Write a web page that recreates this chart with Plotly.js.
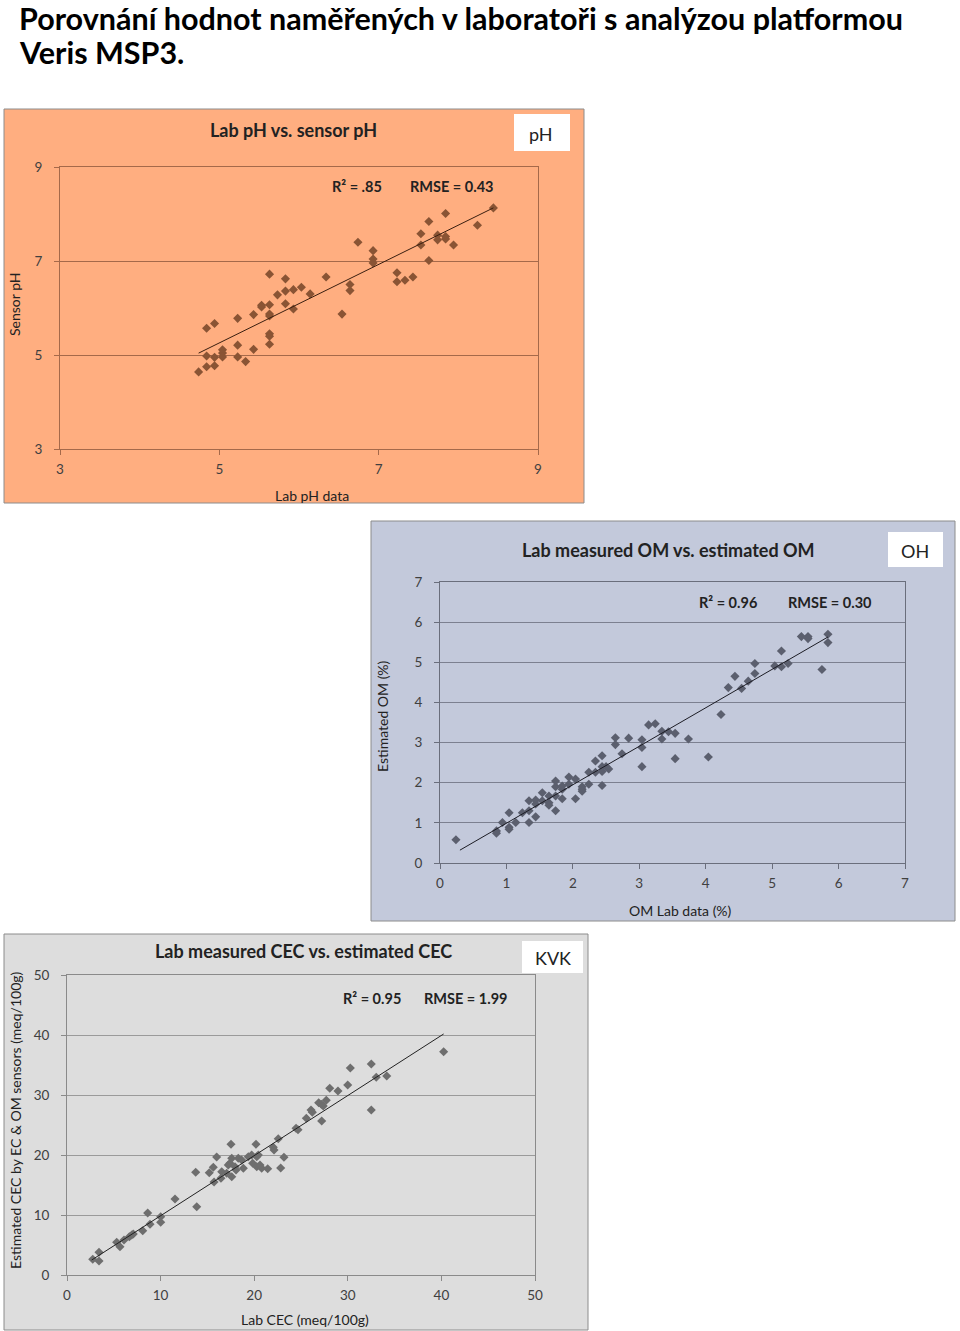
<!DOCTYPE html>
<html>
<head>
<meta charset="utf-8">
<script src="https://cdn.plot.ly/plotly-3.0.1.min.js"></script>
<style>
html,body{margin:0;padding:0;background:#fff;}
#chart{width:960px;height:1331px;}
</style>
</head>
<body>
<div id="chart"></div>
<script>
// ---------- DATA ----------
const pageTitle = ["Porovnání hodnot naměřených v laboratoři s analýzou platformou", "Veris MSP3."];

// pH panel
const phLab = [4.74,4.84,4.94,4.84,4.94,5.04,5.04,5.04,5.23,5.33,5.23,5.43,5.63,5.63,5.63,4.84,4.94,5.23,5.43,5.53,5.53,5.63,5.63,5.63,5.63,5.73,5.83,5.83,5.83,5.93,5.93,6.03,6.14,6.34,6.54,6.64,6.64,6.74,6.93,6.93,6.93,7.23,7.23,7.33,7.43,7.53,7.53,7.63,7.63,7.74,7.74,7.84,7.84,7.84,7.94,8.24,8.44];
const phSensor = [4.64,4.75,4.77,4.98,4.95,5.11,5.04,4.96,4.96,4.86,5.21,5.12,5.23,5.45,5.40,5.57,5.67,5.78,5.86,6.06,6.02,6.07,5.87,5.83,6.72,6.28,6.62,6.36,6.09,6.39,5.98,6.44,6.30,6.66,5.87,6.50,6.37,7.40,7.22,7.04,6.96,6.75,6.56,6.59,6.66,7.58,7.34,7.84,7.01,7.55,7.45,8.01,7.52,7.47,7.34,7.76,8.13];
const phTrendX = [4.74, 8.44];
const phTrendY = [5.04, 8.13];
const phTicks = [3,5,7,9];

// OM panel
const omLab = [0.24,0.85,0.85,0.94,1.04,1.04,1.04,1.14,1.24,1.34,1.34,1.34,1.44,1.44,1.44,1.54,1.54,1.64,1.64,1.64,1.74,1.74,1.74,1.74,1.84,1.84,1.84,1.94,1.94,2.04,2.04,2.14,2.14,2.14,2.24,2.24,2.34,2.34,2.44,2.44,2.44,2.44,2.50,2.54,2.64,2.64,2.74,2.84,3.04,3.04,3.04,3.14,3.24,3.34,3.34,3.44,3.54,3.54,3.74,4.04,4.23,4.34,4.44,4.54,4.64,4.74,4.74,5.04,5.14,5.14,5.24,5.44,5.54,5.54,5.75,5.84,5.84];
const omEst = [0.58,0.80,0.74,1.01,0.89,0.84,1.25,1.01,1.25,1.01,1.30,1.55,1.15,1.47,1.57,1.55,1.75,1.50,1.44,1.67,1.30,1.67,1.90,2.04,1.60,1.84,1.92,1.96,2.14,1.60,2.09,1.90,1.84,1.79,1.96,2.26,2.26,2.54,2.67,2.40,2.28,1.93,2.40,2.34,3.12,2.95,2.72,3.11,3.07,2.88,2.40,3.44,3.47,3.28,3.09,3.27,3.23,2.60,3.09,2.64,3.70,4.37,4.65,4.35,4.53,4.72,4.97,4.91,4.89,5.28,4.97,5.64,5.64,5.59,4.82,5.70,5.49];
const omTrendX = [0.30, 5.84];
const omTrendY = [0.32, 5.63];
const omTicks = [0,1,2,3,4,5,6,7];

// CEC panel
const cecLab = [2.75,3.42,3.42,5.31,5.66,6.09,6.66,6.91,7.08,8.09,8.62,8.87,10.01,10.01,11.54,13.86,13.75,15.20,15.63,15.99,15.71,16.45,16.53,17.06,17.23,17.41,17.52,17.60,17.60,17.95,18.06,18.30,18.66,18.84,19.37,19.73,19.84,20.19,20.27,20.44,20.27,20.62,20.80,21.44,22.83,22.04,22.12,23.18,22.57,24.47,24.68,25.57,26.07,26.21,27.21,26.89,27.17,27.38,27.70,28.07,28.95,29.99,30.27,32.51,32.51,33.04,34.16,40.24];
const cecEst = [2.62,2.33,3.78,5.45,4.72,5.83,6.38,6.67,6.83,7.38,10.33,8.45,8.78,9.72,12.67,11.38,17.12,17.05,17.95,19.67,15.50,16.12,17.22,16.95,18.33,18.62,21.78,19.45,16.38,18.05,17.50,19.45,19.17,17.78,19.72,20.00,18.62,21.78,19.72,20.00,18.05,18.33,17.78,17.72,17.83,21.28,20.83,19.62,22.72,24.45,24.22,26.12,27.50,27.12,25.67,28.72,28.45,28.17,29.12,31.12,30.67,31.67,34.50,35.17,27.50,32.95,33.17,37.22];
const cecTrendX = [2.64, 40.24];
const cecTrendY = [2.50, 40.17];
const cecTicks = [0,10,20,30,40,50];

// ---------- LAYOUT HELPERS ----------
const W = 960, H = 1331;
const fx = v => v / W;
const fy = v => 1 - v / H;
const FONT = "Lato, 'Open Sans', sans-serif";

function axis(dom, range, ticks, lineColor, gridColor, showGrid, anchor, isY) {
  return {
    domain: dom, range: range, tickvals: ticks, ticktext: ticks.map(String),
    showline: true, mirror: true, linecolor: lineColor, linewidth: 1,
    showgrid: showGrid, gridcolor: gridColor, gridwidth: 1,
    zeroline: false, ticks: 'outside', ticklen: 5, tickcolor: lineColor,
    tickfont: {family: FONT, size: 13.5, color: '#404040'},
    anchor: anchor, fixedrange: true,
    ticklabelstandoff: isY ? 9 : 3
  };
}

// ---------- TRACES ----------
const traces = [
  {x: phLab, y: phSensor, type: 'scatter', mode: 'markers', xaxis: 'x', yaxis: 'y',
   marker: {symbol: 'diamond', size: 7, color: '#8A5434'}, hoverinfo: 'skip'},
  {x: phTrendX, y: phTrendY, type: 'scatter', mode: 'lines', xaxis: 'x', yaxis: 'y',
   line: {color: '#3a1f10', width: 1}, hoverinfo: 'skip'},
  {x: omLab, y: omEst, type: 'scatter', mode: 'markers', xaxis: 'x2', yaxis: 'y2',
   marker: {symbol: 'diamond', size: 7, color: '#5B5F6E'}, hoverinfo: 'skip'},
  {x: omTrendX, y: omTrendY, type: 'scatter', mode: 'lines', xaxis: 'x2', yaxis: 'y2',
   line: {color: '#1c1c24', width: 1}, hoverinfo: 'skip'},
  {x: cecLab, y: cecEst, type: 'scatter', mode: 'markers', xaxis: 'x3', yaxis: 'y3',
   marker: {symbol: 'diamond', size: 7, color: '#6E6E6E'}, hoverinfo: 'skip'},
  {x: cecTrendX, y: cecTrendY, type: 'scatter', mode: 'lines', xaxis: 'x3', yaxis: 'y3',
   line: {color: '#222', width: 1}, hoverinfo: 'skip'}
];

// ---------- PANELS ----------
function rect(x0, y0, x1, y1, fill, lineColor) {
  return {type: 'rect', xref: 'paper', yref: 'paper', x0: fx(x0), x1: fx(x1), y0: fy(y1), y1: fy(y0),
          fillcolor: fill, line: {color: lineColor, width: 1}, layer: 'below'};
}
function ann(text, x, y, size, opts) {
  return Object.assign({text: text, x: fx(x), y: fy(y), xref: 'paper', yref: 'paper',
    xanchor: 'center', yanchor: 'middle',
    showarrow: false, font: {family: FONT, size: size, color: '#222'}}, opts || {});
}

const shapes = [
  rect(4, 109, 584, 503, '#FFAE80', '#8C8C8C'),
  rect(514, 114, 570, 151, '#FFFFFF', 'rgba(0,0,0,0)'),
  rect(371, 521, 955, 921, '#C3C9DB', '#8C8C8C'),
  rect(888, 532, 943, 567, '#FFFFFF', 'rgba(0,0,0,0)'),
  rect(4, 934, 588, 1330, '#DDDDDD', '#8C8C8C'),
  rect(522, 941, 583, 973, '#FFFFFF', 'rgba(0,0,0,0)')
];

const titleFont = {family: FONT, size: 30.5, color: '#000'};
const annotations = [
  ann('<b>' + pageTitle[0] + '</b>', 18, 17.5, 30.5, {xanchor: 'left', font: titleFont, height: 33, borderpad: 0}),
  ann('<b>' + pageTitle[1] + '</b>', 18, 51.5, 30.5, {xanchor: 'left', font: titleFont, height: 33, borderpad: 0}),
  // pH
  ann('<b>Lab pH vs. sensor pH</b>', 293, 130, 18),
  ann('<b>R² = .85</b>', 357, 186, 14.5),
  ann('<b>RMSE = 0.43</b>', 451, 186, 14.5),
  ann('pH', 541, 134, 18),
  ann('Lab pH data', 312, 495, 14),
  ann('Sensor pH', 15, 305, 14, {textangle: -90}),
  // OM
  ann('<b>Lab measured OM vs. estimated OM</b>', 668, 550, 18),
  ann('<b>R² = 0.96</b>', 728, 603, 14.5),
  ann('<b>RMSE = 0.30</b>', 830, 603, 14.5),
  ann('OH', 915, 551, 18),
  ann('OM Lab data (%)', 680, 910, 14),
  ann('Estimated OM (%)', 382, 716, 14, {textangle: -90}),
  // CEC
  ann('<b>Lab measured CEC vs. estimated CEC</b>', 303, 951, 18),
  ann('<b>R² = 0.95</b>', 372, 998, 14.5),
  ann('<b>RMSE = 1.99</b>', 465, 998, 14.5),
  ann('KVK', 553, 958, 18),
  ann('Lab CEC (meq/100g)', 305, 1319, 14),
  ann('Estimated CEC by EC &amp; OM sensors (meq/100g)', 15, 1120, 14, {textangle: -90})
];

const layout = {
  width: W, height: H,
  margin: {l: 0, r: 0, t: 0, b: 0},
  paper_bgcolor: '#FFFFFF', plot_bgcolor: 'rgba(0,0,0,0)',
  showlegend: false,
  xaxis: axis([fx(60), fx(538)], [3, 9], phTicks, '#A5694A', '#A5694A', false, 'y', false),
  yaxis: axis([fy(449), fy(167)], [3, 9], phTicks, '#A5694A', '#A5694A', true, 'x', true),
  xaxis2: axis([fx(440), fx(905)], [0, 7], omTicks, '#6A6E7C', '#7C8090', false, 'y2', false),
  yaxis2: axis([fy(863), fy(582)], [0, 7], omTicks, '#6A6E7C', '#7C8090', true, 'x2', true),
  xaxis3: axis([fx(67), fx(535)], [0, 50], cecTicks, '#8A8A8A', '#9A9A9A', false, 'y3', false),
  yaxis3: axis([fy(1275), fy(975)], [0, 50], cecTicks, '#8A8A8A', '#9A9A9A', true, 'x3', true),
  shapes: shapes,
  annotations: annotations
};

Plotly.newPlot('chart', traces, layout, {staticPlot: true, displayModeBar: false});
</script>
</body>
</html>
